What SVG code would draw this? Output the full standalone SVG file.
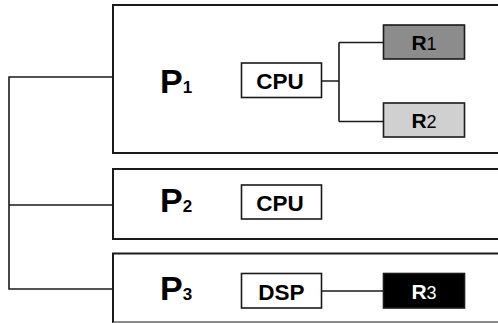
<svg xmlns="http://www.w3.org/2000/svg" width="498" height="323" viewBox="0 0 498 323">
  <style>
    .frame { fill: #ffffff; stroke: #1a1a1a; stroke-width: 2; }
    .unit { fill: #ffffff; stroke: #1a1a1a; stroke-width: 1.6; }
    .res { stroke: #1a1a1a; stroke-width: 1.6; }
    .wire { fill: none; stroke: #1a1a1a; stroke-width: 1.6; }
    .plabel { font-family: "Liberation Sans", Arial, sans-serif; font-weight: bold; font-size: 34px; fill: #000; }
    .psub { font-family: "Liberation Sans", Arial, sans-serif; font-weight: bold; font-size: 17px; fill: #000; }
    .ulabel { font-family: "Liberation Sans", Arial, sans-serif; font-weight: bold; font-size: 22.5px; fill: #000; text-anchor: middle; }
    .rlabel { font-family: "Liberation Sans", Arial, sans-serif; font-weight: bold; font-size: 21px; fill: #000; text-anchor: middle; }
    .rsub { font-weight: normal; font-size: 18px; }
  </style>

  <rect width="498" height="323" fill="#ffffff"/>

  <!-- processor frames, open to the right -->
  <g id="p1">
    <rect class="frame" x="113" y="5" width="400" height="148"/>
    <text class="plabel" x="160" y="93">P<tspan class="psub">1</tspan></text>
  </g>
  <g id="p2">
    <rect class="frame" x="113" y="169" width="400" height="70"/>
    <text class="plabel" x="160" y="212">P<tspan class="psub">2</tspan></text>
  </g>
  <g id="p3">
    <rect class="frame" x="113" y="253.5" width="400" height="69"/>
    <line x1="113" y1="322.5" x2="498" y2="322.5" stroke="#8a8a8a" stroke-width="1"/>
    <text class="plabel" x="160" y="300">P<tspan class="psub">3</tspan></text>
  </g>

  <!-- processing units -->
  <g id="cpu1">
    <rect class="unit" x="241.5" y="63" width="80" height="34.5"/>
    <text class="ulabel" x="280" y="88.5">CPU</text>
  </g>
  <g id="cpu2">
    <rect class="unit" x="241.5" y="185" width="80" height="34"/>
    <text class="ulabel" x="280" y="210.5">CPU</text>
  </g>
  <g id="dsp">
    <rect class="unit" x="241.5" y="273.5" width="80" height="34.5"/>
    <text class="ulabel" x="281.5" y="299.5">DSP</text>
  </g>

  <!-- resources -->
  <g id="r1">
    <rect class="res" x="383.5" y="25" width="81" height="34" fill="#8c8c8c"/>
    <text class="rlabel" x="424" y="49.5">R<tspan class="rsub">1</tspan></text>
  </g>
  <g id="r2">
    <rect class="res" x="383.5" y="103" width="81" height="34" fill="#d0d0d0"/>
    <text class="rlabel" x="424" y="127.5">R<tspan class="rsub">2</tspan></text>
  </g>
  <g id="r3">
    <rect class="res" x="383.5" y="273.5" width="81" height="34.5" fill="#000000"/>
    <text class="rlabel" x="424" y="299" style="fill:#ffffff">R<tspan class="rsub">3</tspan></text>
  </g>

  <!-- connectors -->
  <g id="connectors">
    <path class="wire" d="M113 77 H9 V289 H113 M9 205 H113"/>
    <path class="wire" d="M321.5 81 H339 M339 42.5 V121.5 M339 42.5 H383.5 M339 121.5 H383.5"/>
    <path class="wire" d="M321.5 291 H383.5"/>
  </g>
</svg>
